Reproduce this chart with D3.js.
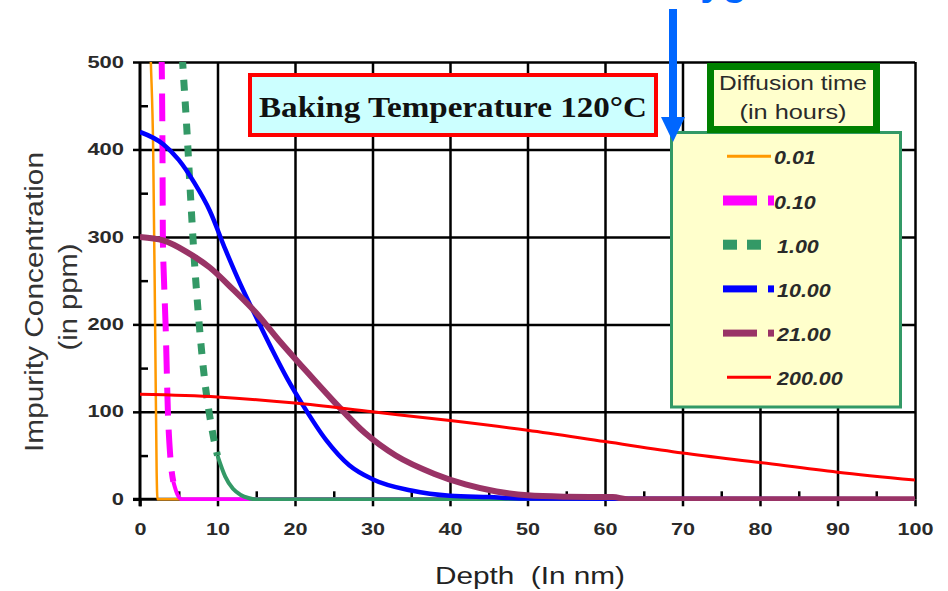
<!DOCTYPE html>
<html>
<head>
<meta charset="utf-8">
<script src="https://cdn.jsdelivr.net/npm/d3@7"></script>
<style>
body { margin: 0; background: #fff; }
svg { display: block; }
</style>
</head>
<body>
<svg id="chart"></svg>
<script>
// values: depth (nm) and concentration (ppm) for each diffusion time
var seriesNames = ["0.01", "0.10", "1.00", "10.00", "21.00", "200.00"]
var depth001 = [1.2, 1.4, 1.7, 1.95, 2.15, 2.25, 2.6, 100]
var conc001 = [560, 500, 400, 200, 30, 0, 0, 0]
var depth010 = [2.6, 2.8, 2.9, 2.95, 3.1, 3.3, 3.6, 3.9, 4.3, 4.8, 5.4, 100]
var conc010 = [560, 500, 400, 300, 250, 200, 100, 50, 20, 6, 0, 0]
var depth1 = [5.3, 5.5, 6.0, 6.5, 7.0, 7.5, 8.0, 8.5, 9.0, 9.5, 10, 11, 12, 13, 14, 15, 100]
var conc1 = [530, 500, 430, 350, 275, 215, 165, 125, 95, 70, 50, 26, 12, 5, 1.5, 0, 0]
var depth10 = [0, 3, 5, 7, 9, 11, 13, 15, 17, 19, 21, 24, 27, 30, 35, 40, 45, 50, 100]
var conc10 = [420, 406, 388, 362, 330, 286, 245, 208, 172, 138, 108, 68, 39, 23, 10, 4, 2.5, 1, 0]
var depth21 = [0, 3, 6, 9, 12, 15, 18, 21, 25, 29, 33, 38, 42, 46, 50, 55, 61, 63, 100]
var conc21 = [300, 296, 283, 265, 240, 213, 181, 151, 112, 76, 50, 29, 17, 9, 4.5, 3, 2.5, 0, 0]
var depth200 = [0, 10, 20, 30, 40, 50, 60, 70, 80, 90, 100]
var conc200 = [120, 117, 110, 100, 90, 79, 66, 53, 42, 31, 22]

var xTickValues = [0, 10, 20, 30, 40, 50, 60, 70, 80, 90, 100]
var xMinorValues = [5, 15, 25, 35, 45, 55, 65, 75, 85, 95]
var yTickValues = [0, 100, 200, 300, 400, 500]
var yMinorValues = [50, 150, 250, 350, 450]

var titleText = "Baking Temperature 120°C"
var legendTitle = ["Diffusion time", "(in hours)"]

// line styles, same order as seriesNames
var styles = [
  {color: "#FF9900", width: 2.5, dash: null, solidBelow: 0, key: "thin"},
  {color: "#FF00FF", width: 6, tailWidth: 4, dash: "28,14", solidBelow: 22, key: "dash", keyH: 10},
  {color: "#339966", width: 7, tailWidth: 4, dash: "11,11", solidBelow: 50, key: "square", keyH: 10},
  {color: "#0000FF", width: 4.5, dash: null, solidBelow: 0, key: "dash", keyH: 7},
  {color: "#993366", width: 6, dash: null, solidBelow: 0, key: "dash", keyH: 7},
  {color: "#FF0000", width: 3, dash: null, solidBelow: 0, key: "thin"}
]

var screen = {width: 948, height: 591}
var plot = {left: 140, right: 915, top: 62, bottom: 499.3}
var fontSans = "'Liberation Sans', Arial, sans-serif"

var svg = d3.select("#chart")
  .attr("width", screen.width)
  .attr("height", screen.height)

var xScale = d3.scaleLinear().domain([0, 100]).range([plot.left, plot.right])
var yScale = d3.scaleLinear().domain([0, 500]).range([plot.bottom, plot.top])

// stretch a text to a measured width
var fit = function(sel, w) {
  sel.attr("textLength", w).attr("lengthAdjust", "spacingAndGlyphs")
}

// gridlines (black, Excel style)
svg.append("g")
  .attr("transform", "translate(" + plot.left + ",0)")
  .call(d3.axisLeft(yScale).tickValues(yTickValues.slice(1)).tickSize(-(plot.right - plot.left)).tickFormat(""))
  .call(function(g) { g.select(".domain").remove() })
  .selectAll("line").attr("stroke", "#000").attr("stroke-width", 2.5)

svg.append("g")
  .attr("transform", "translate(0," + plot.bottom + ")")
  .call(d3.axisBottom(xScale).tickValues(xTickValues.slice(1)).tickSize(-(plot.bottom - plot.top)).tickFormat(""))
  .call(function(g) { g.select(".domain").remove() })
  .selectAll("line").attr("stroke", "#000").attr("stroke-width", 2.5)

// axes
var yAxis = svg.append("g")
  .attr("transform", "translate(" + plot.left + ",0)")
  .call(d3.axisLeft(yScale).tickValues(yTickValues).tickSize(7).tickPadding(9).tickSizeOuter(0))
yAxis.select(".domain").attr("stroke", "#000").attr("stroke-width", 3)
  .attr("d", "M0," + (plot.bottom + 7) + "V" + plot.top)
yAxis.selectAll("line").attr("stroke", "#000").attr("stroke-width", 2.5)
yAxis.selectAll("text")
  .attr("fill", "#2a2a2a")
  .style("font", "bold 16px " + fontSans)
  .each(function(d) { fit(d3.select(this), String(d).length * 12.2) })

svg.append("g")
  .attr("transform", "translate(" + plot.left + ",0)")
  .call(d3.axisLeft(yScale).tickValues(yMinorValues).tickSize(-8).tickFormat(""))
  .call(function(g) { g.select(".domain").remove() })
  .selectAll("line").attr("stroke", "#000").attr("stroke-width", 2.5)

var xAxis = svg.append("g")
  .attr("transform", "translate(0," + plot.bottom + ")")
  .call(d3.axisBottom(xScale).tickValues(xTickValues).tickSize(7).tickPadding(17).tickSizeOuter(0))
xAxis.select(".domain").attr("stroke", "#000").attr("stroke-width", 3)
  .attr("d", "M" + (plot.left - 7) + ",0H" + plot.right)
xAxis.selectAll("line").attr("stroke", "#000").attr("stroke-width", 2.5)
xAxis.selectAll("text")
  .attr("fill", "#2a2a2a")
  .style("font", "bold 16px " + fontSans)
  .each(function(d) { fit(d3.select(this), String(d).length * 12) })

svg.append("g")
  .attr("transform", "translate(0," + plot.bottom + ")")
  .call(d3.axisBottom(xScale).tickValues(xMinorValues).tickSize(-8).tickFormat(""))
  .call(function(g) { g.select(".domain").remove() })
  .selectAll("line").attr("stroke", "#000").attr("stroke-width", 2.5)

// curves, clipped just below the zero line like the original
svg.append("clipPath").attr("id", "plotClip")
  .append("rect")
  .attr("x", plot.left).attr("y", plot.top)
  .attr("width", plot.right - plot.left).attr("height", plot.bottom - plot.top + 1.6)

var allDepths = [depth001, depth010, depth1, depth10, depth21, depth200]
var allConcs = [conc001, conc010, conc1, conc10, conc21, conc200]

var lineGenerator = d3.line()
  .x(function(d) { return xScale(d.x) })
  .y(function(d) { return yScale(d.y) })
  .curve(d3.curveMonotoneX)

var curves = svg.append("g").attr("clip-path", "url(#plotClip)")

seriesNames.forEach(function(name, i) {
  var st = styles[i]
  var pts = allDepths[i].map(function(x, j) { return {x: x, y: allConcs[i][j]} })
  if (st.dash) {
    // the steep part is dashed, the low tail looks solid in the original
    var cut = pts.findIndex(function(p) { return p.y <= st.solidBelow })
    curves.append("path").datum(pts.slice(cut))
      .attr("d", lineGenerator).attr("fill", "none")
      .attr("stroke", st.color).attr("stroke-width", st.tailWidth)
    curves.append("path").datum(pts.slice(0, cut + 1))
      .attr("d", lineGenerator).attr("fill", "none")
      .attr("stroke", st.color).attr("stroke-width", st.width)
      .attr("stroke-dasharray", st.dash)
  } else {
    curves.append("path").datum(pts)
      .attr("d", lineGenerator).attr("fill", "none")
      .attr("stroke", st.color).attr("stroke-width", st.width)
  }
})

// title box
svg.append("rect")
  .attr("x", 250).attr("y", 75).attr("width", 406).attr("height", 60)
  .attr("fill", "#CCFFFF").attr("stroke", "#FF0000").attr("stroke-width", 4)
svg.append("text")
  .attr("x", 453).attr("y", 117)
  .attr("text-anchor", "middle")
  .style("font", "bold 29px 'Liberation Serif', 'Times New Roman', serif")
  .attr("fill", "#111")
  .text(titleText)
  .call(fit, 388)

// legend
svg.append("rect")
  .attr("x", 671.5).attr("y", 132.5).attr("width", 229).attr("height", 274.5)
  .attr("fill", "#FFFFCC").attr("stroke", "#339966").attr("stroke-width", 3)

svg.append("rect")
  .attr("x", 710.5).attr("y", 66.5).attr("width", 166).attr("height", 63)
  .attr("fill", "#FFFFCC").attr("stroke", "#008000").attr("stroke-width", 7)

svg.append("text").attr("x", 793).attr("y", 90)
  .attr("text-anchor", "middle").attr("fill", "#2a2a2a")
  .style("font", "20px " + fontSans)
  .text(legendTitle[0]).call(fit, 148)
svg.append("text").attr("x", 793).attr("y", 119)
  .attr("text-anchor", "middle").attr("fill", "#2a2a2a")
  .style("font", "20px " + fontSans)
  .text(legendTitle[1]).call(fit, 107)

var legendRows = svg.append("g").attr("id", "legend")
  .selectAll("g")
  .data(seriesNames)
  .enter()
  .append("g")
  .attr("transform", function(d, i) { return "translate(0," + (156.3 + i * 44.2) + ")" })

legendRows.each(function(name, i) {
  var g = d3.select(this)
  var st = styles[i]
  if (st.key == "thin") {
    g.append("line").attr("x1", 727).attr("x2", 771)
      .attr("stroke", st.color).attr("stroke-width", 3)
  } else if (st.key == "dash") {
    g.append("rect").attr("x", 723).attr("y", -st.keyH / 2).attr("width", 34).attr("height", st.keyH).attr("fill", st.color)
    g.append("rect").attr("x", 768).attr("y", -st.keyH / 2).attr("width", 6).attr("height", st.keyH).attr("fill", st.color)
  } else {
    g.append("rect").attr("x", 723).attr("y", -st.keyH / 2).attr("width", 14).attr("height", st.keyH).attr("fill", st.color)
    g.append("rect").attr("x", 747).attr("y", -st.keyH / 2).attr("width", 14).attr("height", st.keyH).attr("fill", st.color)
  }
  g.append("text")
    .attr("x", i < 2 ? 774 : 777).attr("y", 8)
    .attr("fill", "#2a2a2a")
    .style("font", "italic bold 19px " + fontSans)
    .text(name)
    .each(function() { fit(d3.select(this), this.getComputedTextLength() * 1.13) })
})

// axis titles
svg.append("text")
  .attr("transform", "translate(43,302) rotate(-90)")
  .attr("text-anchor", "middle").attr("fill", "#333")
  .style("font", "26px " + fontSans)
  .text("Impurity Concentration").call(fit, 300)
svg.append("text")
  .attr("transform", "translate(77,297) rotate(-90)")
  .attr("text-anchor", "middle").attr("fill", "#333")
  .style("font", "26px " + fontSans)
  .text("(in ppm)").call(fit, 107)
svg.append("text")
  .attr("x", 530).attr("y", 584)
  .attr("text-anchor", "middle").attr("fill", "#222")
  .style("font", "23px " + fontSans)
  .style("white-space", "pre")
  .text("Depth  (In nm)").call(fit, 190)

// blue arrow pointing at the legend, and the cut-off word above it
svg.append("line")
  .attr("x1", 673).attr("x2", 673).attr("y1", 9).attr("y2", 119)
  .attr("stroke", "#0066FF").attr("stroke-width", 8)
svg.append("path")
  .attr("d", "M661,117L685,117L673,142Z")
  .attr("fill", "#0066FF")
svg.append("text")
  .attr("x", 647).attr("y", -5)
  .attr("fill", "#0066FF")
  .style("font", "bold 40px " + fontSans)
  .text("Oxygen")
</script>
</body>
</html>
